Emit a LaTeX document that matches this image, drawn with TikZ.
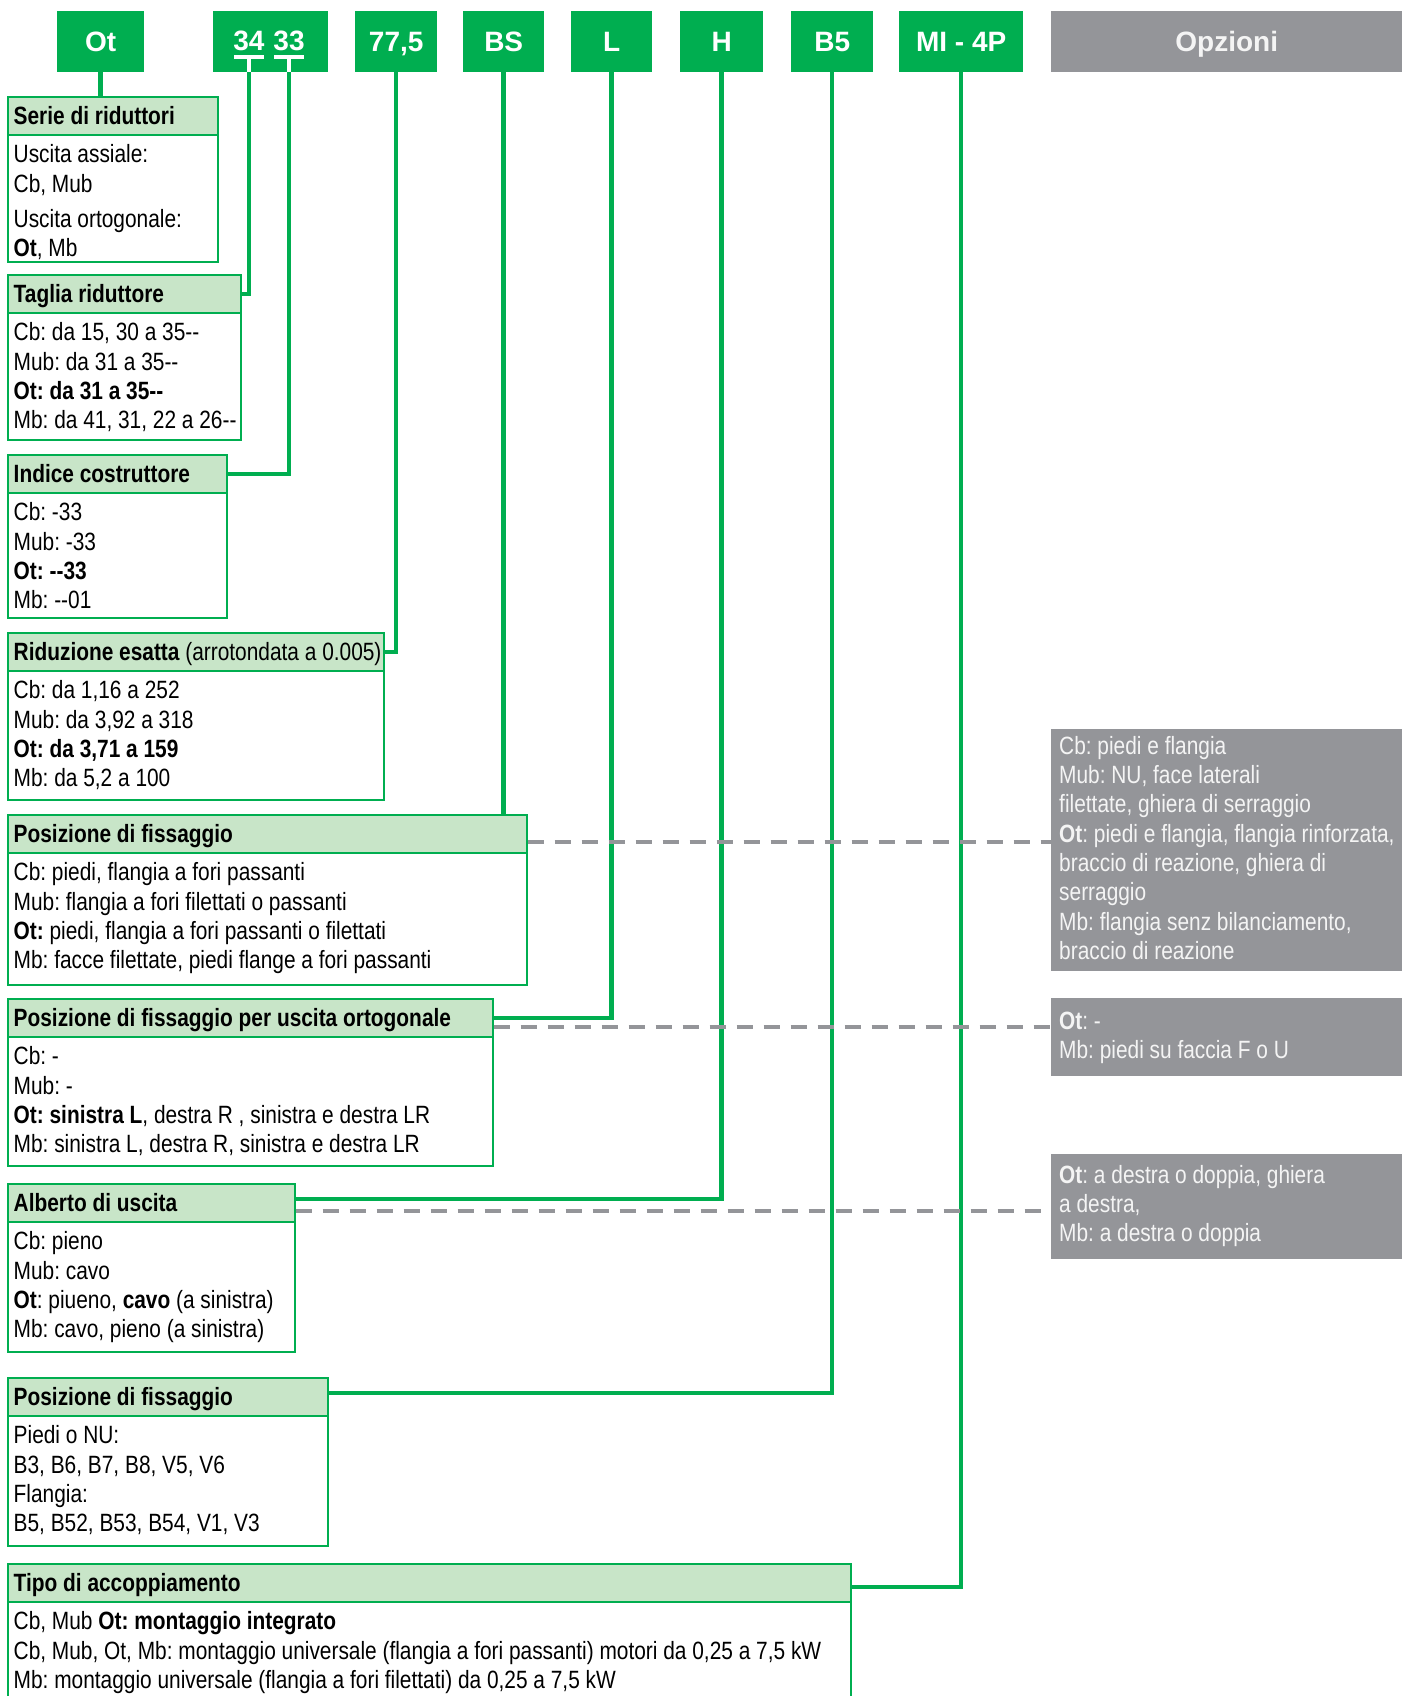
\documentclass[tikz,border=0pt]{standalone}
\usepackage{fontspec}
\setmainfont{Liberation Sans}[FakeStretch=0.835]
\newfontfamily\topfam{Liberation Sans}
\definecolor{grn}{RGB}{0,174,80}
\definecolor{lgrn}{RGB}{200,229,200}
\definecolor{gry}{RGB}{148,149,153}
\definecolor{gtxt}{RGB}{244,244,244}
\newcommand\bodyfont{\fontsize{25}{29.3}\selectfont\frenchspacing}
\newcommand\topfont{\topfam\fontsize{28}{30}\selectfont\bfseries}
\newcommand\fs{\rule{0pt}{20pt}}
\tikzset{
  hdr/.style={draw=grn, fill=lgrn, line width=1.6pt, anchor=north west, inner sep=0pt, minimum height=38pt},
  bdy/.style={draw=grn, fill=white, line width=1.6pt, anchor=north west, inner sep=0pt},
  htxt/.style={anchor=base west, inner sep=0pt, font=\bodyfont\bfseries},
  btxt/.style={anchor=north west, inner sep=0pt, align=left, font=\bodyfont},
  topbox/.style={fill=grn, anchor=north west, inner sep=0pt, minimum height=61pt, text=white, font=\topfont, text height=20pt, text depth=0pt},
  toptxt/.style={anchor=base, inner sep=0pt, text=white, font=\topfont},
  optbox/.style={fill=gry, anchor=north west, inner sep=0pt, minimum height=61pt, minimum width=351pt, text=gtxt, font=\topfont, text height=20pt, text depth=0pt},
  gbox/.style={fill=gry, anchor=north west, inner sep=0pt, minimum width=351pt},
  gtext/.style={anchor=north west, inner sep=0pt, align=left, font=\bodyfont, text=gtxt},
  conn/.style={draw=grn, line width=4.5pt},
  wbar/.style={draw=white, line width=4pt},
  dsh/.style={draw=gry, line width=4.5pt, dash pattern=on 16pt off 11pt},
}
% #1 name, #2 right x, #3 header top, #4 body bottom, #5 header text, #6 body text
\newcommand\infobox[6]{%
  \node[hdr, minimum width={#2-7}] (#1h) at (7,#3) {};
  \node[bdy, minimum width={#2-7}, minimum height={#4-#3-38}] (#1b) at (7,#3+38) {};
  \node[htxt] (#1ht) at (13.5,#3+28.5) {#5};
  \node[btxt] (#1bt) at (13.5,#3+46.5) {\fs #6};
}
\begin{document}
\begin{tikzpicture}[x=1pt,y=-1pt]
\useasboundingbox (0,0) rectangle (1402,1696);
\clip (0,0) rectangle (1402,1696);

% top code boxes
\node[topbox, minimum width=87pt] (tOt) at (57,11) {Ot};
\node[topbox, minimum width=115pt] (t3433) at (213,11) {};
\node[toptxt] (n34) at (249,51) {34};
\node[toptxt] (n33) at (289,51) {33};
\node[topbox, minimum width=82pt] (t775) at (355,11) {77,5};
\node[topbox, minimum width=81pt] (tBS) at (463,11) {BS};
\node[topbox, minimum width=81pt] (tL) at (571,11) {L};
\node[topbox, minimum width=83pt] (tH) at (680,11) {H};
\node[topbox, minimum width=82pt] (tB5) at (791,11) {B5};
\node[topbox, minimum width=124pt] (tMI) at (899,11) {MI - 4P};
\node[optbox] (tOpz) at (1051,11) {Opzioni};

\coordinate (k34) at (249,57);
\coordinate (k33) at (289,57);
\draw[wbar] ([xshift=-15pt]k34) -- ([xshift=15pt]k34);
\draw[wbar] ([xshift=-15pt]k33) -- ([xshift=15pt]k33);
\draw[wbar] (k34) -- (k34 |- t3433.south);
\draw[wbar] (k33) -- (k33 |- t3433.south);

% grey option boxes
\node[gbox, minimum height=242pt] (g1) at (1051,729) {};
\node[gbox, minimum height=78pt] (g2) at (1051,998) {};
\node[gbox, minimum height=105pt] (g3) at (1051,1154) {};
\node[gtext] (g1t) at (1059,734) {\fs Cb: piedi e flangia\\ Mub: NU, face laterali\\ filettate, ghiera di serraggio\\ \textbf{Ot}: piedi e flangia, flangia rinforzata,\\ braccio di reazione, ghiera di\\ serraggio\\ Mb: flangia senz bilanciamento,\\ braccio di reazione};
\node[gtext] (g2t) at (1059,1009) {\fs\textbf{Ot}: -\\ Mb: piedi su faccia F o U};
\node[gtext] (g3t) at (1059,1163) {\fs\textbf{Ot}: a destra o doppia, ghiera\\ a destra,\\ Mb: a destra o doppia};

% info boxes
\infobox{ser}{217}{96}{261}{Serie di riduttori}{Uscita assiale:\\ Cb, Mub\\[6pt] Uscita ortogonale:\\ \textbf{Ot}, Mb}
\infobox{tag}{240}{274}{439}{Taglia riduttore}{Cb: da 15, 30 a 35-{}-\\ Mub: da 31 a 35-{}-\\ \textbf{Ot: da 31 a 35-{}-}\\ Mb: da 41, 31, 22 a 26-{}-}
\infobox{ind}{226}{454}{617}{Indice costruttore}{Cb: -33\\ Mub: -33\\ \textbf{Ot: -{}-33}\\ Mb: -{}-01}
\infobox{rid}{383}{632}{799}{Riduzione esatta {\mdseries(arrotondata a 0.005)}}{Cb: da 1,16 a 252\\ Mub: da 3,92 a 318\\ \textbf{Ot: da 3,71 a 159}\\ Mb: da 5,2 a 100}
\infobox{pos}{526}{814}{984}{Posizione di fissaggio}{Cb: piedi, flangia a fori passanti\\ Mub: flangia a fori filettati o passanti\\ \textbf{Ot:} piedi, flangia a fori passanti o filettati\\ Mb: facce filettate, piedi flange a fori passanti}
\infobox{ort}{492}{998}{1165}{Posizione di fissaggio per uscita ortogonale}{Cb: -\\ Mub: -\\ \textbf{Ot: sinistra L}, destra R , sinistra e destra LR\\ Mb: sinistra L, destra R, sinistra e destra LR}
\infobox{alb}{294}{1183}{1351}{Alberto di uscita}{Cb: pieno\\ Mub: cavo\\ \textbf{Ot}: piueno, \textbf{cavo} (a sinistra)\\ Mb: cavo, pieno (a sinistra)}
\infobox{pstwo}{327}{1377}{1545}{Posizione di fissaggio}{Piedi o NU:\\ B3, B6, B7, B8, V5, V6\\ Flangia:\\ B5, B52, B53, B54, V1, V3}
\infobox{tipo}{850}{1563}{1730}{Tipo di accoppiamento}{Cb, Mub \textbf{Ot: montaggio integrato}\\ Cb, Mub, Ot, Mb: montaggio universale (flangia a fori passanti) motori da 0,25 a 7,5 kW\\ Mb: montaggio universale (flangia a fori filettati) da 0,25 a 7,5 kW}

% green connectors
\draw[conn] (tOt.south) -- (tOt.south |- serh.north);
\draw[conn] (k34 |- t3433.south) |- (tagh.east);
\draw[conn] (k33 |- t3433.south) |- (indh.east);
\draw[conn] (t775.south) |- (ridh.east);
\draw[conn] (tBS.south) -- (tBS.south |- posh.north);
\draw[conn] (tL.south) |- (orth.east);
\draw[conn] (tH.south) |- ([yshift=4pt]albh.east);
\draw[conn] (tB5.south) |- ([yshift=4pt]pstwoh.east);
\draw[conn] (tMI.south) |- ([yshift=-4pt]tipoh.east);

% grey dashed links
\draw[dsh] ([yshift=-8pt]posh.east) -- ([yshift=-8pt]posh.east -| g1.west);
\draw[dsh] ([yshift=-9pt]orth.east) -- ([yshift=-9pt]orth.east -| g2.west);
\draw[dsh] ([yshift=-8pt]albh.east) -- ([yshift=-8pt]albh.east -| g3.west);
\end{tikzpicture}
\end{document}
